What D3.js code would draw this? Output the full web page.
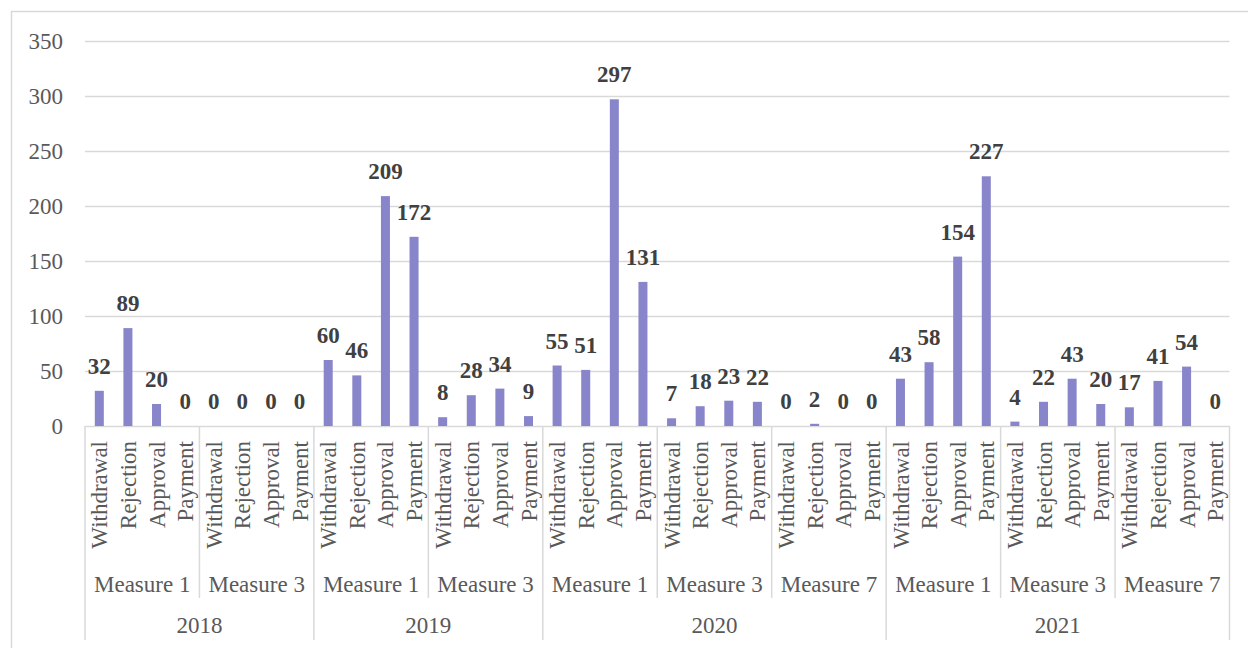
<!DOCTYPE html>
<html>
<head>
<meta charset="utf-8">
<script src="https://cdn.jsdelivr.net/npm/d3@7/dist/d3.min.js"></script>
<style>
  html, body { margin: 0; padding: 0; background: #fff; }
  svg { display: block; }
</style>
</head>
<body>
<svg id="chart" width="1248" height="648"></svg>
<script>
// ---- data ----
const groupYears = ["2018","2018","2019","2019","2020","2020","2020","2021","2021","2021"];
const groupMeasures = ["Measure 1","Measure 3","Measure 1","Measure 3","Measure 1","Measure 3","Measure 7","Measure 1","Measure 3","Measure 7"];
const stages = ["Withdrawal","Rejection","Approval","Payment"];
const groupValues = [
  [32, 89, 20, 0],
  [0, 0, 0, 0],
  [60, 46, 209, 172],
  [8, 28, 34, 9],
  [55, 51, 297, 131],
  [7, 18, 23, 22],
  [0, 2, 0, 0],
  [43, 58, 154, 227],
  [4, 22, 43, 20],
  [17, 41, 54, 0]
];
const yTicks = [0, 50, 100, 150, 200, 250, 300, 350];

// ---- build flat rows ----
const rows = [];
groupValues.forEach((vals, g) => {
  vals.forEach((v, s) => {
    rows.push({ id: g + "-" + s, group: g, year: groupYears[g], measure: groupMeasures[g], stage: stages[s], value: v });
  });
});

const FONT = "Liberation Serif";
const svg = d3.select("#chart");
const left = 85, right = 1229.5, y0 = 426, yTop = 41;
const x = d3.scaleBand().domain(rows.map(d => d.id)).range([left, right]).padding(0);
const y = d3.scaleLinear().domain([0, 350]).range([y0, yTop]);
const gridColor = "#d9d9d9";
const axisText = "#595959";
const barColor = "#8985ca";
const fs = 23;

function styleText(sel) {
  return sel.attr("font-family", FONT).attr("font-size", fs);
}

// outer border
svg.append("rect").attr("x", 11.5).attr("y", 11.5).attr("width", 1300).attr("height", 700)
  .attr("fill", "none").attr("stroke", gridColor).attr("stroke-width", 1.5);

// gridlines
svg.append("g").selectAll("line").data(yTicks).join("line")
  .attr("x1", left).attr("x2", right)
  .attr("y1", d => Math.round(y(d)) + 0.5).attr("y2", d => Math.round(y(d)) + 0.5)
  .attr("stroke", gridColor).attr("stroke-width", 1.5);

// y tick labels
styleText(svg.append("g").selectAll("text").data(yTicks).join("text"))
  .attr("x", 63).attr("y", d => y(d)).attr("dy", "0.35em")
  .attr("text-anchor", "end").attr("fill", axisText)
  .text(d => d);

// bars
const bw = x.bandwidth() * 0.315;
svg.append("g").selectAll("rect").data(rows).join("rect")
  .attr("x", d => x(d.id) + (x.bandwidth() - bw) / 2)
  .attr("width", bw)
  .attr("y", d => y(d.value))
  .attr("height", d => y0 - y(d.value))
  .attr("fill", barColor);

// data labels
styleText(svg.append("g").selectAll("text").data(rows).join("text"))
  .attr("x", d => x(d.id) + x.bandwidth() / 2)
  .attr("y", d => y(d.value) - 17)
  .attr("text-anchor", "middle").attr("font-weight", "bold")
  .attr("fill", "#404040")
  .text(d => d.value);

// category labels (rotated)
styleText(svg.append("g").selectAll("text").data(rows).join("text"))
  .attr("transform", d => `translate(${x(d.id) + x.bandwidth() / 2},441) rotate(-90)`)
  .attr("dy", "0.35em")
  .attr("text-anchor", "end").attr("fill", axisText)
  .text(d => d.stage);

// measure labels
const bandW = x.bandwidth();
styleText(svg.append("g").selectAll("text").data(groupMeasures).join("text"))
  .attr("x", (d, g) => x(g + "-0") + bandW * 2)
  .attr("y", 592)
  .attr("text-anchor", "middle").attr("fill", axisText)
  .text(d => d);

// year labels
const yearList = Array.from(new Set(groupYears));
const yearSpans = yearList.map(yr => {
  const gs = groupYears.map((v, i) => v === yr ? i : -1).filter(i => i >= 0);
  const x1 = x(gs[0] + "-0");
  const x2 = x(gs[gs.length - 1] + "-3") + bandW;
  return { yr, x1, x2 };
});
styleText(svg.append("g").selectAll("text").data(yearSpans).join("text"))
  .attr("x", d => (d.x1 + d.x2) / 2).attr("y", 633)
  .attr("text-anchor", "middle").attr("fill", axisText)
  .text(d => d.yr);

// separators
const sepG = svg.append("g").attr("stroke", gridColor).attr("stroke-width", 1.5);
const yearBounds = [yearSpans[0].x1].concat(yearSpans.map(d => d.x2));
sepG.selectAll("line.yb").data(yearBounds).join("line").attr("class", "yb")
  .attr("x1", d => d).attr("x2", d => d).attr("y1", y0).attr("y2", 640);
const measBounds = [];
groupYears.forEach((yr, g) => {
  if (g > 0 && groupYears[g - 1] === yr) measBounds.push(x(g + "-0"));
});
sepG.selectAll("line.mb").data(measBounds).join("line").attr("class", "mb")
  .attr("x1", d => d).attr("x2", d => d).attr("y1", y0).attr("y2", 598);
</script>
</body>
</html>
